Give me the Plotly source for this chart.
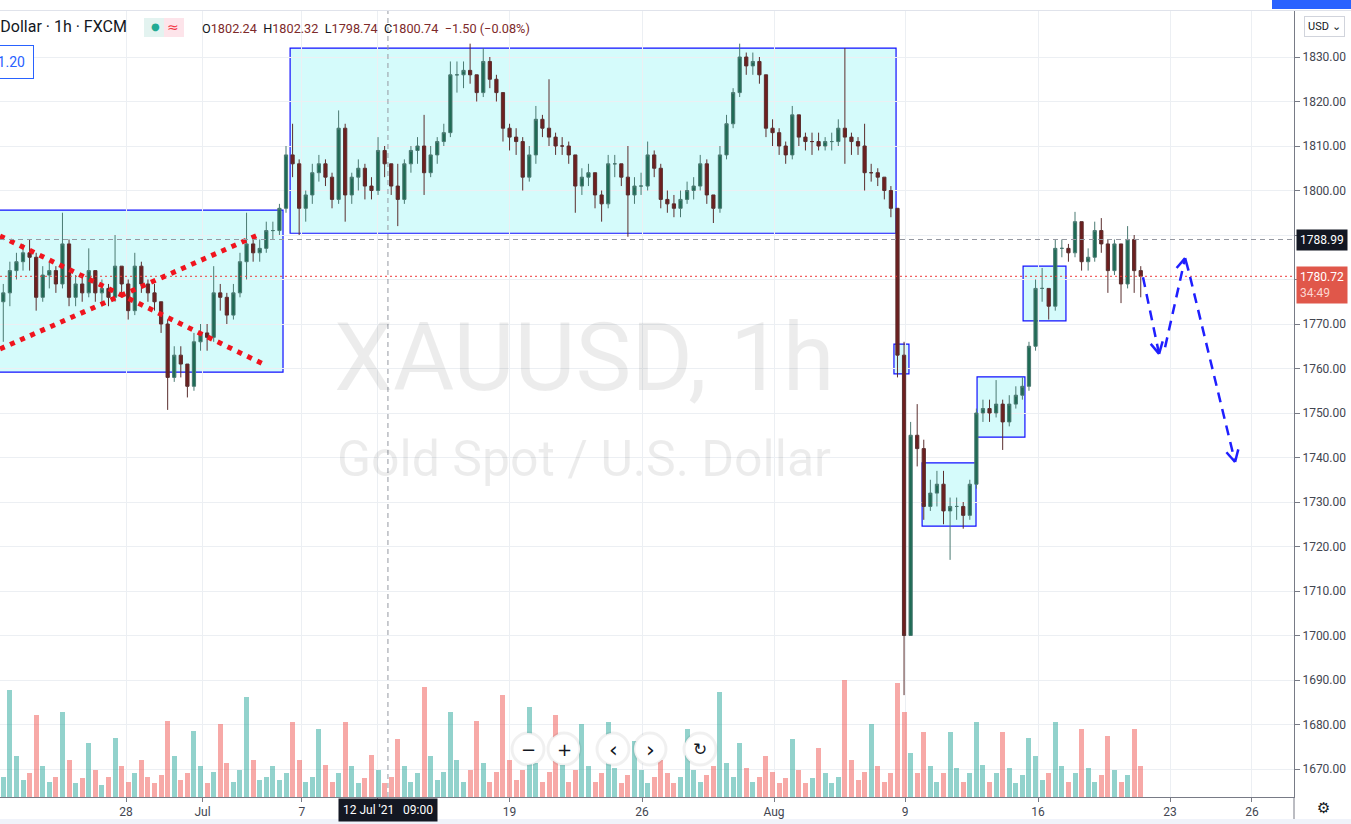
import math
import plotly.graph_objects as go

# ---------------- data (6-hour bars) ----------------
bar_open = [1775, 1777, 1782, 1784, 1786, 1785, 1776, 1781, 1782, 1779,
            1788, 1776, 1779, 1777, 1782, 1777, 1778, 1776, 1783, 1779,
            1773, 1783, 1779, 1777, 1775, 1770, 1758, 1763, 1761, 1756,
            1766, 1768, 1767, 1777, 1776, 1772, 1777, 1784, 1788, 1786,
            1787, 1791, 1791, 1796, 1808, 1806, 1796, 1799, 1804, 1806,
            1803, 1798, 1814, 1799, 1803, 1805, 1801, 1800, 1809, 1806,
            1801, 1798, 1806, 1809, 1810, 1804, 1808, 1811, 1813, 1826,
            1826, 1827, 1826, 1822, 1829, 1825, 1822, 1814, 1812, 1811,
            1803, 1808, 1816, 1814, 1812, 1810, 1810, 1808, 1801, 1803,
            1804, 1799, 1797, 1806, 1806, 1803, 1799, 1801, 1801, 1808,
            1805, 1798, 1797, 1796, 1798, 1800, 1801, 1806, 1799, 1796,
            1808, 1815, 1822, 1830, 1828, 1829, 1826, 1814, 1813, 1810,
            1808, 1817, 1812, 1811, 1811, 1810, 1811, 1811, 1814, 1812,
            1811, 1810, 1804, 1804, 1803, 1800, 1796, 1763, 1700, 1745,
            1742, 1729, 1732, 1734, 1728, 1729, 1729, 1727, 1734, 1750,
            1751, 1750, 1752, 1748, 1752, 1754, 1756, 1765, 1778, 1778,
            1774, 1787, 1787, 1786, 1793, 1784, 1785, 1791, 1788, 1782,
            1788, 1779, 1789, 1782]
bar_high = [1779, 1784, 1786, 1788, 1789, 1786, 1783, 1784, 1783, 1795,
            1789, 1781, 1781, 1787, 1782, 1780, 1779, 1790, 1783, 1780,
            1786, 1784, 1780, 1779, 1775, 1771, 1765, 1765, 1761, 1768,
            1770, 1770, 1783, 1779, 1777, 1779, 1786, 1795, 1790, 1789,
            1793, 1793, 1797, 1810, 1815, 1807, 1800, 1806, 1808, 1807,
            1804, 1818, 1815, 1804, 1807, 1806, 1803, 1812, 1810, 1806,
            1806, 1807, 1810, 1812, 1817, 1810, 1812, 1815, 1829, 1829,
            1829, 1833, 1826, 1832, 1830, 1826, 1822, 1815, 1814, 1812,
            1810, 1819, 1817, 1825, 1813, 1812, 1811, 1808, 1805, 1806,
            1804, 1800, 1808, 1808, 1806, 1810, 1803, 1804, 1811, 1809,
            1806, 1800, 1799, 1800, 1802, 1803, 1808, 1807, 1799, 1810,
            1817, 1823, 1833, 1831, 1831, 1830, 1826, 1816, 1814, 1811,
            1819, 1817, 1813, 1813, 1813, 1812, 1813, 1816, 1832, 1813,
            1812, 1815, 1806, 1805, 1803, 1801, 1796, 1766, 1748, 1752,
            1744, 1735, 1737, 1737, 1731, 1731, 1730, 1735, 1751, 1753,
            1753, 1757.4, 1753, 1754, 1756, 1758, 1766, 1780, 1782.6, 1778,
            1789, 1789, 1788, 1795.2, 1793, 1787, 1793, 1793.8, 1789, 1789,
            1788, 1792, 1790, 1783]
bar_low = [1766, 1774, 1780, 1782, 1782, 1773, 1775, 1778, 1777, 1778,
           1774, 1774, 1775, 1776, 1775, 1774, 1774, 1775, 1776, 1771,
           1772, 1777, 1775, 1773, 1768, 1750.7, 1757, 1758, 1753.5, 1755,
           1764, 1764, 1766, 1773, 1770, 1771, 1776, 1780, 1784, 1784,
           1786, 1789, 1790, 1795, 1803, 1790, 1793, 1797, 1802, 1801,
           1796, 1797, 1793, 1797, 1800, 1798, 1798, 1799, 1803, 1799,
           1792, 1797, 1804, 1806, 1799, 1803, 1806, 1810, 1812, 1822,
           1823, 1824, 1820, 1821, 1823, 1820, 1811, 1809, 1808, 1800,
           1802, 1806, 1812, 1810, 1808, 1808, 1806, 1795, 1799, 1801,
           1796, 1793, 1796, 1803, 1801, 1789.6, 1797, 1799, 1800, 1803,
           1796, 1795, 1794, 1794, 1797, 1798, 1800, 1797, 1792.7, 1795,
           1807, 1814, 1821, 1826, 1826, 1824, 1812, 1810, 1808, 1806,
           1807, 1810, 1809, 1808, 1809, 1809, 1809, 1810, 1806, 1808,
           1808, 1800, 1802, 1801, 1798, 1794, 1758, 1686.6, 1700, 1738,
           1726, 1728, 1729, 1725, 1717, 1726, 1724, 1726, 1733, 1748,
           1748, 1749, 1741.7, 1747, 1751, 1753, 1755, 1764, 1775, 1771,
           1773, 1785, 1784, 1785, 1782, 1782, 1784, 1786, 1777, 1781,
           1774.7, 1778, 1777, 1776]
bar_close = [1777, 1782, 1784, 1786, 1785, 1776, 1781, 1782, 1779, 1788,
             1776, 1779, 1777, 1782, 1777, 1778, 1776, 1783, 1779, 1773,
             1783, 1779, 1777, 1775, 1770, 1758, 1763, 1761, 1756, 1766,
             1768, 1767, 1777, 1776, 1772, 1777, 1784, 1788, 1786, 1787,
             1791, 1791, 1796, 1808, 1806, 1796, 1799, 1804, 1806, 1803,
             1798, 1814, 1799, 1803, 1805, 1801, 1800, 1809, 1806, 1801,
             1798, 1806, 1809, 1810, 1804, 1808, 1811, 1813, 1826, 1826,
             1827, 1826, 1822, 1829, 1825, 1822, 1814, 1812, 1811, 1803,
             1808, 1816, 1814, 1812, 1810, 1810, 1808, 1801, 1803, 1804,
             1799, 1797, 1806, 1806, 1803, 1799, 1801, 1801, 1808, 1805,
             1798, 1797, 1796, 1798, 1800, 1801, 1806, 1799, 1796, 1808,
             1815, 1822, 1830, 1828, 1829, 1826, 1814, 1813, 1810, 1808,
             1817, 1812, 1811, 1811, 1810, 1811, 1811, 1814, 1812, 1811,
             1810, 1804, 1804, 1803, 1800, 1796, 1763, 1700, 1745, 1742,
             1729, 1732, 1734, 1728, 1729, 1729, 1727, 1734, 1750, 1751,
             1750, 1752, 1748, 1752, 1754, 1756, 1765, 1778, 1778, 1774,
             1787, 1787, 1786, 1793, 1784, 1785, 1791, 1788, 1782, 1788,
             1779, 1789, 1782, 1780.72]
bar_volume = [60, 315, 120, 50, 70, 240, 90, 45, 60, 250,
              110, 40, 55, 160, 80, 35, 60, 175, 90, 45,
              70, 110, 60, 40, 65, 225, 120, 50, 70, 195,
              90, 40, 75, 215, 100, 45, 80, 295, 110, 50,
              60, 90, 50, 70, 220, 110, 45, 60, 200, 95,
              45, 70, 220, 90, 40, 55, 125, 80, 40, 60,
              170, 90, 45, 70, 325, 120, 50, 75, 250, 110,
              45, 80, 225, 100, 45, 75, 300, 110, 50, 80,
              265, 100, 45, 75, 240, 95, 45, 80, 215, 90,
              45, 70, 220, 85, 40, 65, 165, 80, 40, 60,
              110, 70, 40, 60, 200, 80, 45, 65, 90, 310,
              100, 60, 160, 85, 45, 60, 120, 75, 40, 55,
              170, 80, 40, 55, 145, 70, 40, 60, 345, 110,
              50, 75, 215, 90, 45, 70, 335, 250, 130, 70,
              190, 90, 45, 70, 190, 85, 45, 70, 220, 95,
              45, 70, 190, 85, 40, 65, 175, 120, 50, 70,
              220, 90, 45, 70, 200, 85, 45, 65, 180, 80,
              45, 65, 200, 90]

# x is measured in trading days, Mon 28 Jun 2021 00:00 = 0
FIRST_BAR = -4.666
BAR_STEP = 0.25
x_range = [-4.791, 44.411]
tick_pos = [0, 2.91, 6.69, 9.58, 14.58, 19.62, 24.64, 29.62, 34.68, 39.70, 42.81]
tick_text = ["28", "Jul", "7", "", "19", "26", "Aug", "9", "16", "23", "26"]  # "12" hidden by crosshair label
price_range = [1663.71, 1840.34]
price_ticks = list(range(1670, 1831, 10))
hidden_price_labels = [1780, 1790]   # covered by the price labels on the axis
price_text = ["" if p in hidden_price_labels else f"{p:.2f}" for p in price_ticks]
volume_range = [0, 2314]

last_price = 1780.72
cross_price = 1788.99
cross_day = 9.96

# drawings (day, price)
boxes = [(-6.0, 5.97, 1759.2, 1795.6), (6.24, 29.28, 1790.4, 1832.0),
         (29.20, 29.77, 1758.8, 1765.5), (30.27, 32.32, 1724.6, 1738.8),
         (32.36, 34.18, 1744.6, 1758.1), (34.11, 35.74, 1770.7, 1783.0)]
red_lines = [(-4.79, 1789.8, 5.36, 1760.6), (-4.79, 1764.4, 5.10, 1790.2)]
blue_arrows = [(38.67, 1780.5, 39.28, 1763.3), (39.51, 1764.8, 40.27, 1784.8),
               (40.46, 1780.6, 42.17, 1739.0)]

# ---------------- figure ----------------
W, H = 1351, 824
M_L, M_R, M_T, M_B = 0, 57, 11, 27
PW, PH = W - M_L - M_R, H - M_T - M_B

bar_x = [FIRST_BAR + i * BAR_STEP for i in range(len(bar_close))]
vol_colors = ["rgba(38,166,154,0.5)" if c >= o else "rgba(239,83,80,0.5)"
              for o, c in zip(bar_open, bar_close)]

fig = go.Figure()
fig.add_trace(go.Bar(x=bar_x, y=bar_volume, marker=dict(color=vol_colors, line=dict(width=0)),
                     width=0.19, yaxis="y", hoverinfo="skip", showlegend=False))
fig.add_trace(go.Candlestick(
    x=bar_x, open=bar_open, high=bar_high, low=bar_low, close=bar_close, yaxis="y2",
    increasing=dict(line=dict(color="#4b7a72", width=1), fillcolor="#1f6b55"),
    decreasing=dict(line=dict(color="#5a2e2e", width=1), fillcolor="#6e1f1f"),
    whiskerwidth=0, hoverinfo="skip", showlegend=False))

shapes = []
for x0, x1, y0, y1 in boxes:
    shapes.append(dict(type="rect", xref="x", yref="y2", x0=x0, x1=x1, y0=y0, y1=y1,
                       fillcolor="rgba(0,230,230,0.165)", line=dict(color="#1010ff", width=1.2),
                       layer="below"))
for x0, y0, x1, y1 in red_lines:
    shapes.append(dict(type="line", xref="x", yref="y2", x0=x0, y0=y0, x1=x1, y1=y1,
                       line=dict(color="#f0141e", width=5, dash="5px,6px")))

# crosshair and last price line
shapes.append(dict(type="line", xref="x", yref="paper", x0=cross_day, x1=cross_day, y0=0, y1=1,
                   line=dict(color="#9598a1", width=1, dash="5px,4px")))
shapes.append(dict(type="line", xref="paper", yref="y2", x0=0, x1=1, y0=cross_price, y1=cross_price,
                   line=dict(color="#9598a1", width=1, dash="5px,4px")))
shapes.append(dict(type="line", xref="paper", yref="y2", x0=0, x1=1, y0=last_price, y1=last_price,
                   line=dict(color="#ef3b3b", width=1, dash="2px,3px")))

# blue dashed arrows
ppd = PW / (x_range[1] - x_range[0])
ppp = PH / (price_range[1] - price_range[0])
for x0, y0, x1, y1 in blue_arrows:
    shapes.append(dict(type="line", xref="x", yref="y2", x0=x0, y0=y0, x1=x1, y1=y1,
                       line=dict(color="#1f1fff", width=2.5, dash="10px,7px")))
    dx, dy = (x1 - x0) * ppd, (y1 - y0) * ppp
    n = math.hypot(dx, dy)
    ux, uy = -dx / n, -dy / n
    for s in (1, -1):
        a = math.radians(28) * s
        wx = ux * math.cos(a) - uy * math.sin(a)
        wy = ux * math.sin(a) + uy * math.cos(a)
        shapes.append(dict(type="line", xref="x", yref="y2", x0=x1, y0=y1,
                           x1=x1 + wx * 13 / ppd, y1=y1 + wy * 13 / ppp,
                           line=dict(color="#1f1fff", width=2.5)))


def py(ypx):
    return (H - M_B - ypx) / PH


def px(xpx):
    return (xpx - M_L) / PW


# top toolbar strip and bottom strip
shapes.append(dict(type="line", xref="paper", yref="paper", x0=0, x1=px(W), y0=py(10.5), y1=py(10.5),
                   line=dict(color="#e0e3eb", width=1)))
shapes.append(dict(type="rect", xref="paper", yref="paper", x0=px(1272), x1=px(W), y0=py(9), y1=py(0),
                   fillcolor="#2962ff", line=dict(width=0)))
shapes.append(dict(type="rect", xref="paper", yref="paper", x0=0, x1=px(W), y0=py(824), y1=py(819),
                   fillcolor="#f0f3fa", line=dict(width=0)))
shapes.append(dict(type="line", xref="paper", yref="paper", x0=1, x1=1, y0=py(797), y1=py(819),
                   line=dict(color="#787b86", width=1)))
# header pill
shapes.append(dict(type="rect", xref="paper", yref="paper", x0=px(144), x1=px(164), y0=py(37), y1=py(18),
                   fillcolor="#e3f3f0", line=dict(width=0)))
shapes.append(dict(type="rect", xref="paper", yref="paper", x0=px(164), x1=px(184), y0=py(37), y1=py(18),
                   fillcolor="#fde4ea", line=dict(width=0)))
# zoom buttons
btn_r = 16
for cx in [528, 564, 613, 650, 700]:
    shapes.append(dict(type="circle", xref="paper", yref="paper",
                       x0=px(cx - btn_r), x1=px(cx + btn_r), y0=py(749 + btn_r), y1=py(749 - btn_r),
                       fillcolor="white", line=dict(color="rgba(0,0,0,0.06)", width=3)))

C = dict(xanchor="center", yanchor="middle", showarrow=False, xref="paper", yref="paper")
annotations = [
    dict(C, text="XAUUSD, 1h", x=px(584), y=py(358),
         font=dict(family="Roboto", size=94, color="rgba(0,0,0,0.075)")),
    dict(C, text="Gold Spot / U.S. Dollar", x=px(584), y=py(459),
         font=dict(family="Roboto", size=50, color="rgba(0,0,0,0.075)")),
    dict(C, text="U.S. Dollar · 1h · FXCM", x=px(129), y=py(27), xanchor="right",
         font=dict(family="Roboto", size=16, color="#131722")),
    dict(C, text="●", x=px(155), y=py(27),
         font=dict(family="DejaVu Sans", size=10, color="#22ab94")),
    dict(C, text="≈", x=px(173), y=py(27),
         font=dict(family="DejaVu Sans", size=14, color="#f23645")),
    dict(C, text=("O<span style='color:#7d2a2a'>1802.24</span>  H<span style='color:#7d2a2a'>1802.32</span>  "
                  "L<span style='color:#7d2a2a'>1798.74</span>  C<span style='color:#7d2a2a'>1800.74  "
                  "−1.50 (−0.08%)</span>"),
         x=px(200), y=py(28), xanchor="left",
         font=dict(family="Roboto", size=12.7, color="#131722")),
    dict(C, text="1781.20", x=px(34), y=py(62), xanchor="right",
         font=dict(family="Roboto", size=14, color="#2962ff"), bordercolor="#2962ff", borderwidth=1,
         borderpad=8, bgcolor="white"),
    dict(C, text="USD ⌄", x=1, xshift=10, y=py(27), xanchor="left",
         font=dict(family="Roboto", size=11, color="#131722"), bordercolor="#d1d4dc", borderwidth=1,
         borderpad=3, bgcolor="white"),
    dict(C, text="1788.99", yref="y2", x=1, xshift=2, y=cross_price, xanchor="left",
         font=dict(family="Roboto", size=12, color="white"), bgcolor="#131722", borderpad=3),
    dict(C, text="1780.72<br><span style='color:#fcd6d1'>34:49</span>", yref="y2", x=1, xshift=2,
         y=last_price, yshift=10, xanchor="left", yanchor="top", align="left",
         font=dict(family="Roboto", size=12, color="white"), bgcolor="#e0574a", borderpad=3),
    dict(C, text="12 Jul '21   09:00", xref="x", x=cross_day, y=0, yanchor="top", yshift=-1,
         font=dict(family="Roboto", size=12, color="white"), bgcolor="#131722", borderpad=4),
    dict(C, text="⚙", x=px(1323), y=py(808),
         font=dict(family="DejaVu Sans", size=15, color="#131722")),
]
for cx, g, sz in [(528, "−", 18), (564, "+", 18), (613, "‹", 22), (650, "›", 22), (700, "↻", 17)]:
    annotations.append(dict(C, text=g, x=px(cx), y=py(749),
                            font=dict(family="DejaVu Sans", size=sz, color="#131722")))

fig.update_layout(
    width=W, height=H, margin=dict(l=M_L, r=M_R, t=M_T, b=M_B),
    paper_bgcolor="white", plot_bgcolor="white", showlegend=False,
    font=dict(family="Roboto", color="#434651", size=12),
    xaxis=dict(range=x_range, tickvals=tick_pos, ticktext=tick_text, showgrid=True, gridcolor="#eceff3",
               zeroline=False, showline=True, linecolor="#787b86", ticks="outside", ticklen=4,
               tickcolor="#787b86", rangeslider=dict(visible=False), fixedrange=True,
               tickfont=dict(size=12, color="#434651")),
    yaxis=dict(range=volume_range, visible=False, showgrid=False, fixedrange=True),
    yaxis2=dict(range=price_range, overlaying="y", side="right", tickvals=price_ticks, ticktext=price_text,
                showgrid=True, gridcolor="#eceff3", zeroline=False, showline=True, linecolor="#787b86",
                ticks="outside", ticklen=5, tickcolor="#787b86", fixedrange=True,
                tickfont=dict(size=12, color="#434651")),
    shapes=shapes, annotations=annotations, bargap=0,
)

fig.write_html("out.html", config={"displayModeBar": False},
               post_script="document.body.style.margin='0';document.body.style.overflow='hidden';")
